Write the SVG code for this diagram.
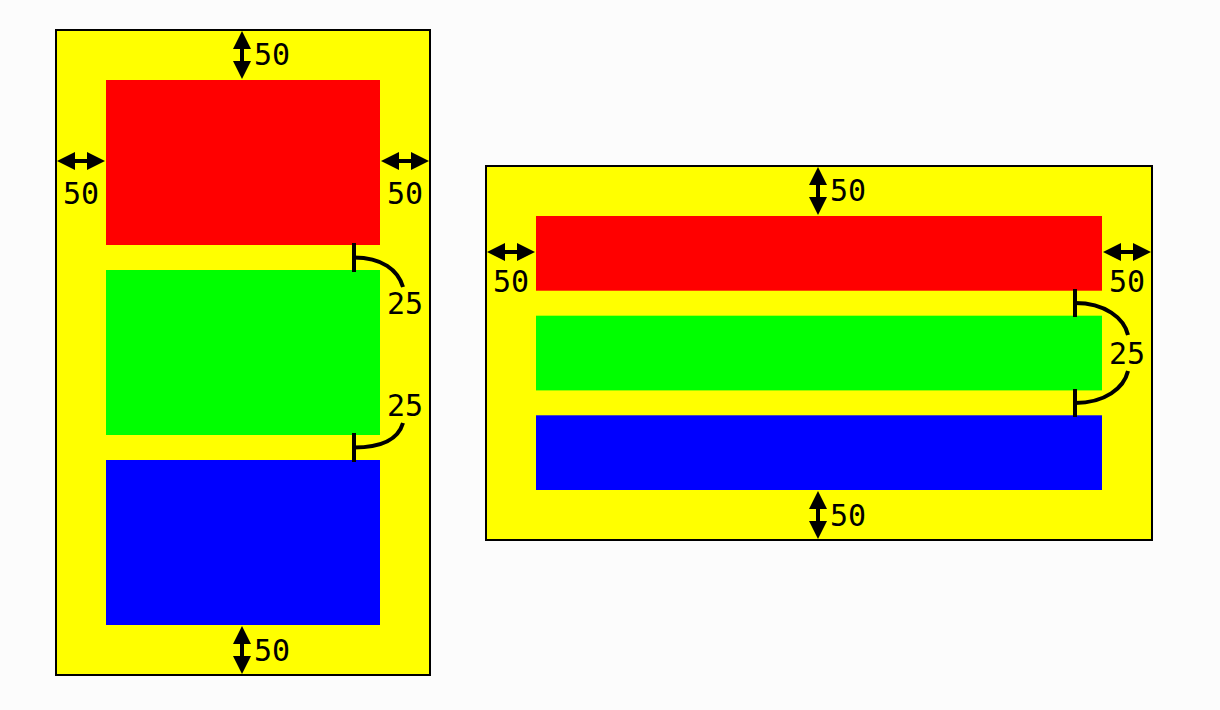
<svg xmlns="http://www.w3.org/2000/svg" width="1220" height="710" viewBox="0 0 1220 710">
<style>
.panel{fill:#ffff00;stroke:#000;stroke-width:2}
.r{fill:#ff0000}.g{fill:#00ff00}.b{fill:#0000ff}
.dim{stroke:#000;stroke-width:4;fill:none}
.arr{stroke:#000;stroke-width:4;fill:none;marker-start:url(#ah);marker-end:url(#ah)}
text{font-family:"DejaVu Sans Mono","Liberation Mono",monospace;font-size:30px;fill:#000}
.c{text-anchor:middle}
</style>
<defs>
<marker id="ah" markerUnits="userSpaceOnUse" markerWidth="20" markerHeight="20" refX="0" refY="9" orient="auto-start-reverse">
<path d="M0,0 L18,9 L0,18 z" fill="#000"/>
</marker>
</defs>
<rect width="1220" height="710" fill="#fcfcfc"/>
<g id="left-panel">
<rect class="panel" x="56" y="30" width="374" height="645"/>
<rect id="left-red" class="r" x="106" y="80" width="274" height="165"/>
<rect id="left-green" class="g" x="106" y="270" width="274" height="165"/>
<rect id="left-blue" class="b" x="106" y="460" width="274" height="165"/>
</g>
<g id="right-panel">
<rect class="panel" x="486" y="166" width="666" height="374"/>
<rect id="right-red" class="r" x="536" y="216" width="566" height="74.7"/>
<rect id="right-green" class="g" x="536" y="315.7" width="566" height="74.7"/>
<rect id="right-blue" class="b" x="536" y="415.3" width="566" height="74.7"/>
</g>
<g id="connectors">
<line class="arr" x1="242" y1="49" x2="242" y2="61"/>
<line class="arr" x1="242" y1="644" x2="242" y2="656"/>
<line class="arr" x1="75" y1="161" x2="87" y2="161"/>
<line class="arr" x1="399" y1="161" x2="411" y2="161"/>
<line class="dim" x1="354" y1="243" x2="354" y2="272"/>
<path class="dim" d="M354,257.5 C382,257.5 398,270 403,287"/>
<line class="dim" x1="354" y1="433" x2="354" y2="462"/>
<path class="dim" d="M403,423 C398,440 382,447.5 354,447.5"/>
<line class="arr" x1="818" y1="185" x2="818" y2="197"/>
<line class="arr" x1="818" y1="509" x2="818" y2="521"/>
<line class="arr" x1="505" y1="252" x2="517" y2="252"/>
<line class="arr" x1="1121" y1="252" x2="1133" y2="252"/>
<line class="dim" x1="1075" y1="289" x2="1075" y2="317"/>
<path class="dim" d="M1075,303 C1105,303 1124,318 1128,335"/>
<line class="dim" x1="1075" y1="389" x2="1075" y2="417"/>
<path class="dim" d="M1128,371 C1124,388 1105,403 1075,403"/>
</g>
<g id="labels">
<text x="254" y="65">50</text>
<text x="254" y="661">50</text>
<text class="c" x="81" y="204">50</text>
<text class="c" x="405" y="204">50</text>
<text class="c" x="405" y="314">25</text>
<text class="c" x="405" y="416">25</text>
<text x="830" y="201">50</text>
<text x="830" y="526">50</text>
<text class="c" x="511" y="292">50</text>
<text class="c" x="1127" y="292">50</text>
<text class="c" x="1127" y="364">25</text>
</g>
</svg>
